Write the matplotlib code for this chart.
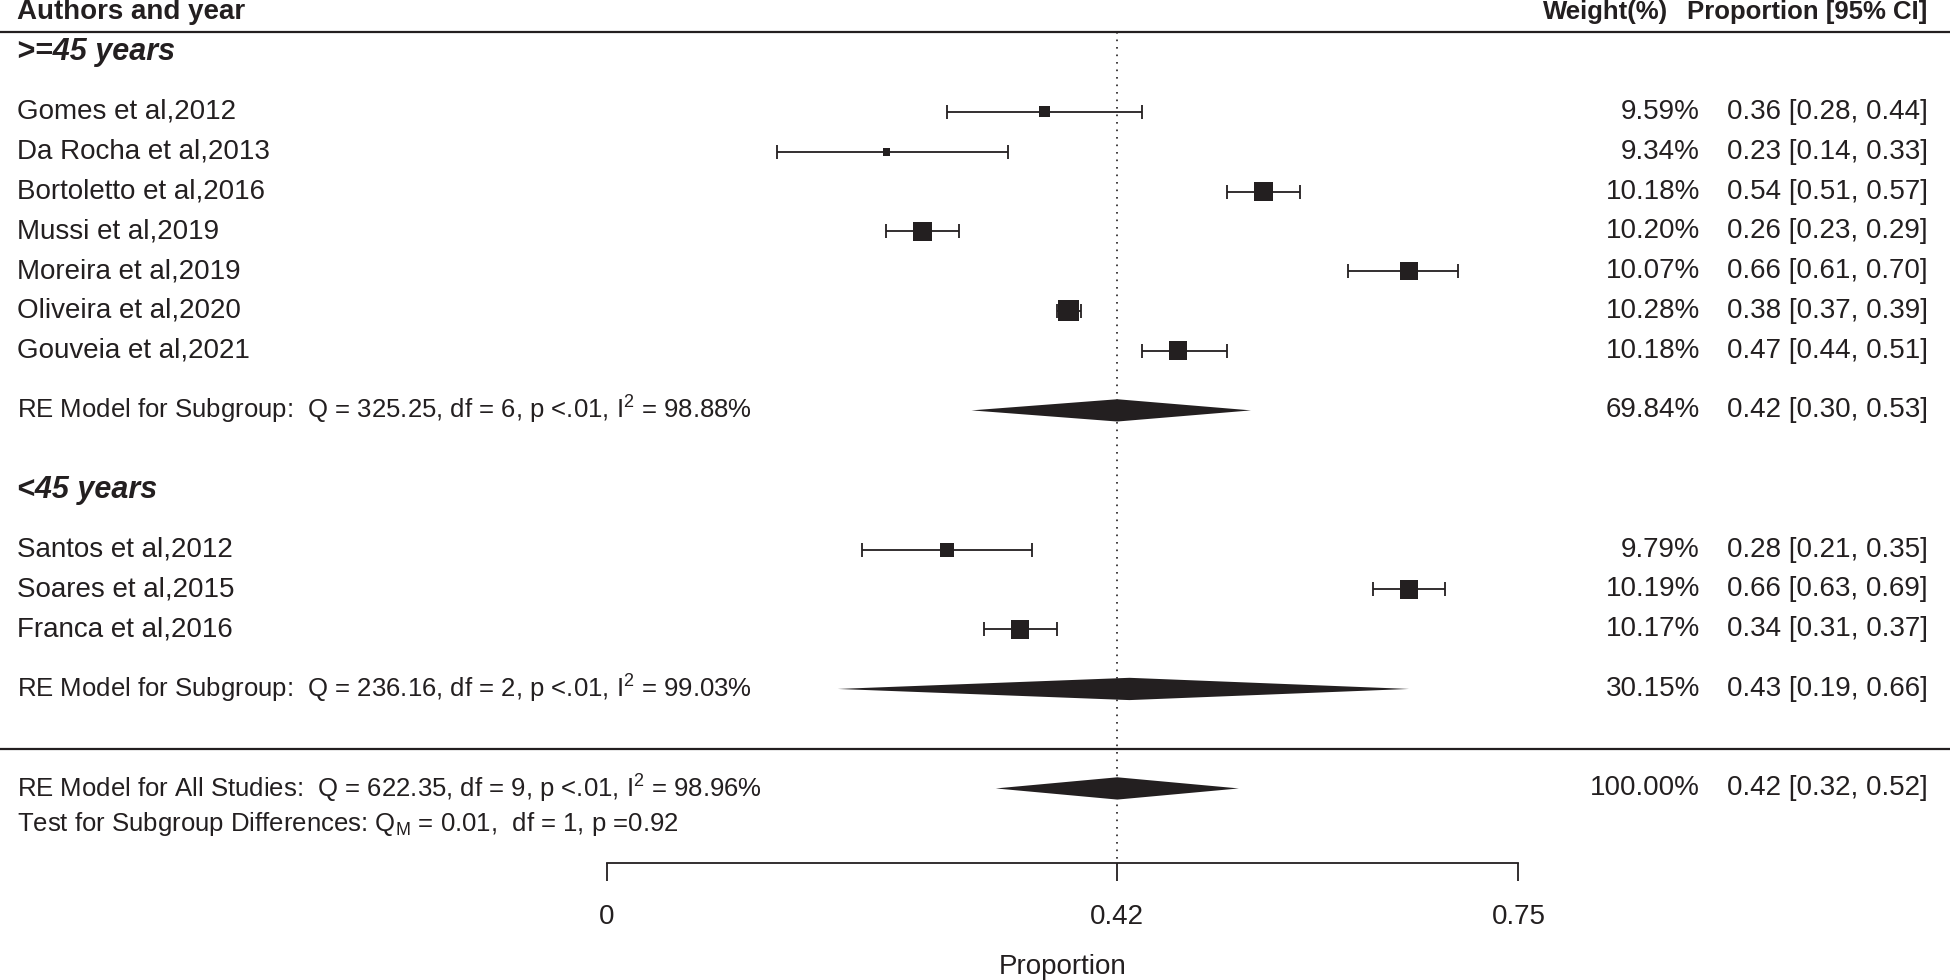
import matplotlib
matplotlib.use("Agg")
import matplotlib.pyplot as plt
import matplotlib.transforms as mtransforms
import numpy as np

plt.rcParams['font.family'] = ['Liberation Sans', 'DejaVu Sans']
plt.rcParams['mathtext.fontset'] = 'custom'
plt.rcParams['mathtext.rm'] = 'Liberation Sans'
plt.rcParams['mathtext.it'] = 'Liberation Sans:italic'
plt.rcParams['mathtext.bf'] = 'Liberation Sans:bold'

INK = "#231f20"
FS = 20        # study rows, numbers
FS_SUM = 18.5  # model / test lines
FS_HEAD = 18.5 # right column headers
FS_GROUP = 22  # subgroup headings

# >=45 years
studies_old = ["Gomes et al,2012", "Da Rocha et al,2013", "Bortoletto et al,2016",
               "Mussi et al,2019", "Moreira et al,2019", "Oliveira et al,2020",
               "Gouveia et al,2021"]
prop_old = [0.36, 0.23, 0.54, 0.26, 0.66, 0.38, 0.47]
lo_old = [0.28, 0.14, 0.51, 0.23, 0.61, 0.37, 0.44]
hi_old = [0.44, 0.33, 0.57, 0.29, 0.70, 0.39, 0.51]
weight_old = [9.59, 9.34, 10.18, 10.20, 10.07, 10.28, 10.18]

# <45 years
studies_young = ["Santos et al,2012", "Soares et al,2015", "Franca et al,2016"]
prop_young = [0.28, 0.66, 0.34]
lo_young = [0.21, 0.63, 0.31]
hi_young = [0.35, 0.69, 0.37]
weight_young = [9.79, 10.19, 10.17]

# subgroup random effects models (>=45, <45)
sub_names = [">=45 years", "<45 years"]
sub_prop = [0.42, 0.43]
sub_lo = [0.30, 0.19]
sub_hi = [0.53, 0.66]
sub_weight = [69.84, 30.15]
sub_Q = [325.25, 236.16]
sub_df = [6, 2]
sub_I2 = [98.88, 99.03]

# overall model
all_prop = 0.42
all_lo = 0.32
all_hi = 0.52
all_weight = 100.00
all_Q = 622.35
all_df = 9
all_I2 = 98.96
test_QM = 0.01
test_df = 1
test_p = 0.92

xticks = [0, 0.42, 0.75]
xtick_labels = ["0", "0.42", "0.75"]

# marker sizes (pt), roughly following the printed squares
psize_old = [8, 5.5, 13.5, 13.5, 12.5, 15, 13.5]
psize_young = [10, 13.5, 13.5]


def ci_text(p, l, h):
    return "{0:.2f} [{1:.2f}, {2:.2f}]".format(p, l, h)


def draw_studies(ax, rows, names, prop, lo, hi, weight, psize):
    prop = np.array(prop)
    err = [prop - np.array(lo), np.array(hi) - prop]
    ax.errorbar(prop, rows, xerr=err, fmt='none', ecolor=INK, elinewidth=1.3,
                capsize=5, capthick=1.3, zorder=2)
    ax.scatter(prop, rows, marker='s', s=np.array(psize) ** 2, color=INK,
               linewidths=0, zorder=3)
    for r, n, p, l, h, w in zip(rows, names, prop, lo, hi, weight):
        ax.text(X_LEFT, r, n, ha='left', va='center', fontsize=FS, color=INK)
        ax.text(X_WEIGHT, r, "{0:.2f}%".format(w), ha='right', va='center',
                fontsize=FS, color=INK)
        ax.text(X_CI, r, ci_text(p, l, h), ha='right', va='center',
                fontsize=FS, color=INK)


def draw_diamond(ax, r, p, l, h, label, w):
    ax.fill([l, p, h, p], [r, r - 0.28, r, r + 0.28], color=INK, lw=0, zorder=3)
    ax.text(X_LEFT, r, label, ha='left', va='center', fontsize=FS_SUM, color=INK)
    ax.text(X_WEIGHT, r, "{0:.2f}%".format(w), ha='right', va='center',
            fontsize=FS, color=INK)
    ax.text(X_CI, r, ci_text(p, l, h), ha='right', va='center', fontsize=FS,
            color=INK)


# column positions in data units
X_LEFT = -0.485
X_WEIGHT = 0.8994
X_WEIGHT_HEAD = 0.8728
X_CI = 1.0867

fig = plt.figure(figsize=(19.5, 9.8), dpi=100)
ax = fig.add_axes([0, 0.1197, 1, 0.8803])
ax.set_xlim(-0.4993, 1.1051)
YMAX = 18.866
ax.set_ylim(YMAX, -2.8125)

rows_old = np.arange(len(studies_old))
rows_young = np.arange(len(studies_young)) + 11
sub_rows = [7.5, 14.5]
head_rows = [-1.5, 9.5]

# header
ax.axhline(-2, color=INK, lw=1.6)
ax.axhline(16, color=INK, lw=1.6)
ax.text(X_LEFT, -2.5, "Authors and year", ha='left', va='center',
        fontsize=FS, fontweight='bold', color=INK)
ax.text(X_WEIGHT_HEAD, -2.5, "Weight(%)", ha='right', va='center',
        fontsize=FS_HEAD, fontweight='bold', color=INK)
ax.text(X_CI, -2.5, "Proportion [95% CI]", ha='right', va='center',
        fontsize=FS_HEAD, fontweight='bold', color=INK)

ax.vlines(all_prop, -2, YMAX, colors=INK, linestyles=(0, (1, 3.5)), lw=1.2,
          zorder=1)

for r, n in zip(head_rows, sub_names):
    ax.text(X_LEFT, r, n, ha='left', va='center', fontsize=FS_GROUP,
            fontweight='bold', fontstyle='italic', color=INK)

draw_studies(ax, rows_old, studies_old, prop_old, lo_old, hi_old, weight_old, psize_old)
draw_studies(ax, rows_young, studies_young, prop_young, lo_young, hi_young,
             weight_young, psize_young)

for i in range(2):
    lab = ("RE Model for Subgroup:  Q = {0:.2f}, df = {1}, p <.01, "
           r"$\mathregular{{I^2}}$ = {2:.2f}%").format(sub_Q[i], sub_df[i], sub_I2[i])
    draw_diamond(ax, sub_rows[i], sub_prop[i], sub_lo[i], sub_hi[i], lab, sub_weight[i])

lab = ("RE Model for All Studies:  Q = {0:.2f}, df = {1}, p <.01, "
       r"$\mathregular{{I^2}}$ = {2:.2f}%").format(all_Q, all_df, all_I2)
draw_diamond(ax, 17, all_prop, all_lo, all_hi, lab, all_weight)
ax.text(X_LEFT, 17.9,
        r"Test for Subgroup Differences: $\mathregular{{Q_M}}$ = {0:.2f},  df = {1}, p ={2:.2f}".format(
            test_QM, test_df, test_p),
        ha='left', va='center', fontsize=FS_SUM, color=INK)

# bottom axis
for s in ['top', 'left', 'right']:
    ax.spines[s].set_visible(False)
ax.spines['bottom'].set_bounds(0, 0.75)
ax.spines['bottom'].set_color(INK)
ax.spines['bottom'].set_linewidth(1.3)
ax.set_yticks([])
ax.set_xticks(xticks)
ax.set_xticklabels(xtick_labels)
ax.tick_params(axis='x', direction='out', length=13, width=1.3, color=INK,
               labelsize=FS, labelcolor=INK, pad=17)

trans = mtransforms.blended_transform_factory(ax.transData, fig.transFigure)
ax.text(np.mean([xticks[0], xticks[-1]]), 0.013, "Proportion", transform=trans,
        ha='center', va='center', fontsize=FS, color=INK)

fig.savefig("out.png", dpi=100, facecolor='white')
